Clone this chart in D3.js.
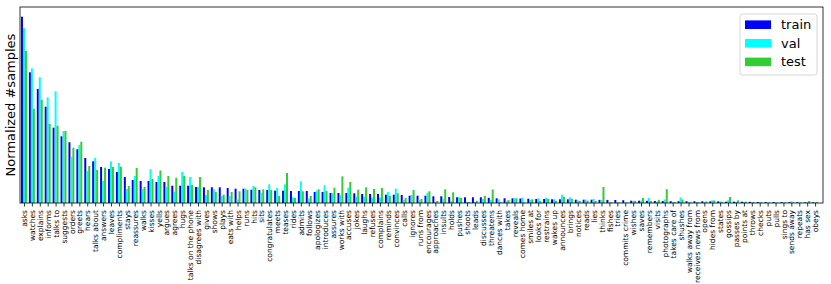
<html>
<head>
  <script src="https://d3js.org/d3.v7.min.js"></script>
  <style>
    body { margin: 0; background: white; }
    text { font-family: "DejaVu Sans", sans-serif; }
  </style>
</head>
<body>
  <svg id="chart" width="831" height="284"></svg>
  <script>
    // verb categories, ordered by train frequency
    const actions = ["asks", "watches", "explains", "informs", "talks to", "suggests", "orders", "greets",
      "hears", "talks about", "answers", "leaves", "compliments", "stays", "reassures", "walks", "kisses",
      "yells", "argues", "agrees", "hugs", "talks on the phone", "disagrees with", "gives", "shows", "plays",
      "eats with", "helps", "runs", "hits", "sits", "congratulates", "meets", "teases", "rides", "admits",
      "follows", "apologizes", "introduces", "assures", "works with", "accuses", "jokes", "laughs", "refuses",
      "complains", "reminds", "convinces", "calls", "ignores", "runs from", "encourages", "approaches",
      "insults", "holds", "pushes", "shoots", "leads", "discusses", "threatens", "dances with", "takes",
      "reveals", "comes home", "smiles at", "looks for", "restrains", "wakes up", "announces", "brings",
      "notices", "reads", "lies", "thinks", "fishes", "tries", "commits crime", "wishes", "saves",
      "remembers", "visits", "photographs", "takes care of", "shushes", "walks away from",
      "receives news from", "opens", "hides from", "states", "gossips", "passes by", "points at", "throws",
      "checks", "puts", "pulls", "sings to", "sends away", "repeats", "has sex", "obeys"];

    // normalized sample counts (arbitrary units)
    const train = [186.3, 130.7, 114, 96.3, 75.3, 66.7, 60.7, 53.7, 45, 41.7, 36, 34, 31, 26, 23, 22, 22,
      21, 21, 17.3, 17.3, 17.3, 16, 15.7, 15.7, 15.7, 15, 14.3, 14.3, 13.3, 13, 13, 12.3, 12.3, 12, 12,
      12, 11, 11, 10, 10, 10, 9.7, 9, 9, 9, 8.3, 8.3, 8, 7.3, 7.3, 7.3, 6.7, 6.7, 6, 5.7, 5.7, 5.7, 5.7,
      5.2, 4.7, 4.7, 4.7, 4.5, 4.3, 4, 4, 3.7, 3.7, 3.7, 3.3, 3.3, 3.3, 3.1, 3.1, 3, 2.8, 2.3, 2.3, 2.2,
      2, 2, 1.8, 1.8, 1.8, 1.7, 1.7, 1.6, 1.6, 1.3, 1.3, 1.3, 1.2, 1, 1, 1, 0.9, 0.8, 0.8, 0.7, 0.7];
    const val = [174.7, 134.7, 125.7, 105.7, 111.7, 72, 46, 58, 32, 45, 22, 41.5, 40, 14, 27, 14, 33.7,
      27, 16, 11.3, 31, 26, 16, 8, 13.7, 7, 7, 3.5, 14.3, 17, 10.3, 18.7, 15, 18.7, 5.7, 21.7, 4.3, 12.3,
      17.7, 10, 8, 15.3, 6.3, 6.3, 5.3, 5.3, 11, 14.3, 3, 8, 3, 10.3, 1.2, 4.2, 2, 5.7, 1, 1, 4, 3, 3.7,
      2, 4.7, 5.3, 3, 4.7, 5.3, 3.7, 8.3, 5.7, 2.7, 3.5, 4.2, 3, 0.7, 0.8, 0.5, 2.2, 2.3, 5, 1.3, 3.5,
      0.7, 5.7, 1, 1, 0.7, 2.7, 1.7, 2.7, 1, 1, 0.7, 0.7, 0.5, 0.5, 0.7, 1.7, 0.5, 0.7, 0.5];
    const test = [152, 94.3, 103.3, 79, 77.3, 72, 55.3, 61.3, 37, 33, 35.3, 36, 36.3, 17, 35, 16, 24,
      32.5, 27, 25.3, 27, 18.3, 26, 13, 11, 8.3, 11, 11.7, 13, 15.7, 13.7, 13, 7, 30, 5, 11.7, 7, 13.7,
      12, 15.3, 26.7, 21, 13.3, 15.7, 14, 15, 7.3, 9.7, 5, 13, 4, 11.7, 2, 13.7, 10.7, 5, 1, 2.3, 7, 13.5,
      1, 3, 4.7, 0.7, 3.7, 2, 4.3, 2, 6, 4.3, 2, 2.3, 2, 16, 0.7, 0.5, 0.5, 2.2, 5, 2, 3.2, 13.8, 1, 3.5,
      1, 1, 1.5, 2.5, 1, 6, 2.7, 1.3, 1, 0.7, 0.5, 0.5, 0.7, 0.7, 0.5, 2, 1];

    const seriesNames = ["train", "val", "test"];
    const seriesColors = ["#0000ff", "#00ffff", "#32cd32"];
    const series = [train, val, test];

    const svg = d3.select("svg#chart");
    const margin = { top: 7, right: 8, bottom: 81, left: 20 };
    const width = +svg.attr("width");
    const height = +svg.attr("height");
    const chartWidth = width - margin.left - margin.right;
    const chartHeight = height - margin.top - margin.bottom;

    const chartArea = svg.append("g")
      .attr("transform", `translate(${margin.left},${margin.top})`);

    const xScale = d3.scaleLinear().domain([-0.5, 101]).range([0, chartWidth]);
    const yScale = d3.scaleLinear().domain([0, 196]).range([chartHeight, 0]);
    const barW = 0.25;

    series.forEach((s, k) => {
      chartArea.selectAll(`rect.s${k}`).data(s)
        .join("rect")
        .attr("class", `s${k}`)
        .attr("x", (d, i) => xScale(i + (k - 1) * barW - barW / 2))
        .attr("width", xScale(barW) - xScale(0))
        .attr("y", d => yScale(d))
        .attr("height", d => chartHeight - yScale(d))
        .attr("fill", seriesColors[k]);
    });

    const bottomAxis = d3.axisBottom(xScale)
      .tickValues(d3.range(actions.length))
      .tickFormat(i => actions[i])
      .tickSize(3.5)
      .tickPadding(3.5);

    const xAxis = chartArea.append("g")
      .attr("transform", `translate(0,${chartHeight})`)
      .call(bottomAxis);
    xAxis.select(".domain").remove();
    xAxis.selectAll(".tick line").attr("stroke", "black").attr("stroke-width", 0.8);
    xAxis.selectAll(".tick text")
      .attr("font-size", "7.5px")
      .attr("fill", "black")
      .attr("text-anchor", "end")
      .attr("y", 0)
      .attr("dy", "0.35em")
      .attr("transform", "translate(0,7) rotate(-90)")
      .attr("x", 0);

    // frame
    chartArea.append("rect")
      .attr("width", chartWidth)
      .attr("height", chartHeight)
      .attr("fill", "none")
      .attr("stroke", "black")
      .attr("stroke-width", 0.8);

    svg.append("text")
      .attr("text-anchor", "middle")
      .attr("font-size", "13px")
      .attr("transform", `translate(15,${margin.top + chartHeight / 2}) rotate(-90)`)
      .text("Normalized #samples");

    // legend
    const legend = svg.append("g").attr("transform", "translate(740,14)");
    legend.append("rect")
      .attr("width", 77)
      .attr("height", 61)
      .attr("rx", 2.5)
      .attr("fill", "white")
      .attr("fill-opacity", 0.8)
      .attr("stroke", "#cccccc")
      .attr("stroke-width", 0.8);
    seriesNames.forEach((name, k) => {
      const cy = 10.7 + k * 18.6;
      legend.append("rect")
        .attr("x", 5)
        .attr("y", cy - 4.3)
        .attr("width", 26)
        .attr("height", 8.6)
        .attr("fill", seriesColors[k]);
      legend.append("text")
        .attr("x", 41)
        .attr("y", cy)
        .attr("dy", "0.35em")
        .attr("font-size", "13px")
        .text(name);
    });
  </script>
</body>
</html>
